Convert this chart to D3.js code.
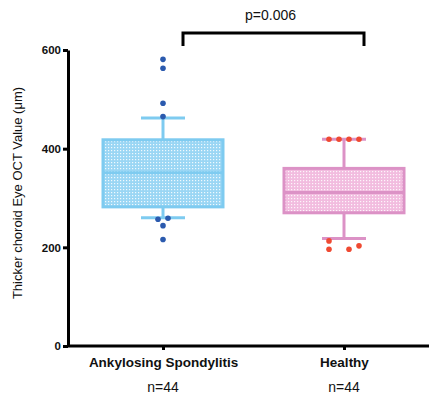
<!DOCTYPE html>
<html>
<head>
<meta charset="utf-8">
<script src="https://cdn.jsdelivr.net/npm/d3@7"></script>
<style>
  body { margin: 0; background: #fff; }
  svg { font-family: Arial, "Liberation Sans", sans-serif; }
</style>
</head>
<body>
<svg id="chart" width="430" height="398"></svg>
<script>
const groups = ['Ankylosing Spondylitis', 'Healthy']
const counts = ['n=44', 'n=44']
// box stats: whisker low, q1, median, q3, whisker high
const boxStats = [
  [260, 282, 351, 418, 462],
  [218, 270, 311, 360, 419]
]
// outlying points per group: [value, offset in px from centre]
const asPoints = [[581, 0], [563, 0], [492, 0], [465, 0], [257, -5], [259, 5], [244, 0], [216, 0]]
const healthyPoints = [[419, -15], [419, -5], [419, 5], [419, 15], [213, -15], [196, -15], [196, 5], [203, 15]]
const yTicks = [0, 200, 400, 600]
const pLabel = 'p=0.006'

const colors = [
  { stroke: '#7ecbf0', fill: '#9ad6f4', dot: '#2b5aae' },
  { stroke: '#dc92c6', fill: '#f2bcdf', dot: '#ef4a32' }
]

const svg = d3.select('#chart')

// patterns for box fill
const defs = svg.append('defs')
colors.forEach((c, i) => {
  const pat = defs.append('pattern')
    .attr('id', 'pat' + i)
    .attr('patternUnits', 'userSpaceOnUse')
    .attr('width', 3).attr('height', 3)
  pat.append('rect').attr('width', 3).attr('height', 3).attr('fill', c.fill)
  pat.append('rect').attr('width', 1.2).attr('height', 1.2).attr('fill', '#fff').attr('opacity', 0.85)
})

const x = d3.scalePoint().domain(groups).range([163, 344])
const y = d3.scaleLinear().domain([0, 600]).range([346, 50])

// y axis
const yAxis = svg.append('g')
  .attr('transform', 'translate(68,0)')
  .call(d3.axisLeft(y).tickValues(yTicks).tickSize(5).tickSizeOuter(0))
yAxis.select('.domain').attr('stroke-width', 3)
yAxis.selectAll('.tick line').attr('stroke-width', 3)
yAxis.selectAll('.tick text')
  .attr('font-size', 11.5).attr('font-weight', 'bold').attr('fill', '#111').attr('x', -7)

// x axis
const xAxis = svg.append('g')
  .attr('transform', 'translate(0,346)')
  .call(d3.axisBottom(x).tickSize(4).tickSizeOuter(0))
xAxis.select('.domain').remove()
xAxis.insert('line', ':first-child')
  .attr('x1', 67).attr('x2', 429)
  .attr('stroke', '#000').attr('stroke-width', 3)
xAxis.selectAll('.tick line').attr('stroke-width', 3)
xAxis.selectAll('.tick text')
  .attr('font-size', 13.5).attr('font-weight', 'bold').attr('fill', '#111').attr('y', 11)

// n labels
svg.selectAll('.nlab')
  .data(counts)
  .enter()
  .append('text')
  .attr('x', (d, i) => x(groups[i]))
  .attr('y', 392)
  .attr('text-anchor', 'middle')
  .attr('font-size', 14)
  .attr('fill', '#111')
  .text(d => d)

// y label
svg.append('text')
  .attr('transform', 'translate(22,' + 193 + ') rotate(-90)')
  .attr('text-anchor', 'middle')
  .attr('font-size', 13)
  .attr('fill', '#111')
  .text('Thicker choroid Eye OCT Value (\u03bcm)')

// boxes
const boxW = 120, capW = 44
boxStats.forEach((s, i) => {
  const cx = x(groups[i])
  const c = colors[i]
  const g = svg.append('g')
  g.append('line')
    .attr('x1', cx).attr('x2', cx).attr('y1', y(s[0])).attr('y2', y(s[4]))
    .attr('stroke', c.stroke).attr('stroke-width', 3)
  ;[s[0], s[4]].forEach(v => {
    g.append('line')
      .attr('x1', cx - capW / 2).attr('x2', cx + capW / 2)
      .attr('y1', y(v)).attr('y2', y(v))
      .attr('stroke', c.stroke).attr('stroke-width', 3)
  })
  g.append('rect')
    .attr('x', cx - boxW / 2).attr('width', boxW)
    .attr('y', y(s[3])).attr('height', y(s[1]) - y(s[3]))
    .attr('fill', 'url(#pat' + i + ')')
    .attr('stroke', c.stroke).attr('stroke-width', 3)
  g.append('line')
    .attr('x1', cx - boxW / 2).attr('x2', cx + boxW / 2)
    .attr('y1', y(s[2])).attr('y2', y(s[2]))
    .attr('stroke', c.stroke).attr('stroke-width', 3)
})

// points
;[asPoints, healthyPoints].forEach((pts, i) => {
  svg.selectAll('.pt' + i)
    .data(pts)
    .enter()
    .append('circle')
    .attr('cx', d => x(groups[i]) + d[1])
    .attr('cy', d => y(d[0]))
    .attr('r', 2.8)
    .attr('fill', colors[i].dot)
})

// significance bracket
const by = 33
svg.append('path')
  .attr('d', `M${x(groups[0]) + 20},46 V${by} H${x(groups[1]) + 20} V46`)
  .attr('fill', 'none').attr('stroke', '#000').attr('stroke-width', 3)
svg.append('text')
  .attr('x', (x(groups[0]) + x(groups[1])) / 2 + 17)
  .attr('y', 20)
  .attr('text-anchor', 'middle')
  .attr('font-size', 14)
  .attr('fill', '#111')
  .text(pLabel)
</script>
</body>
</html>
